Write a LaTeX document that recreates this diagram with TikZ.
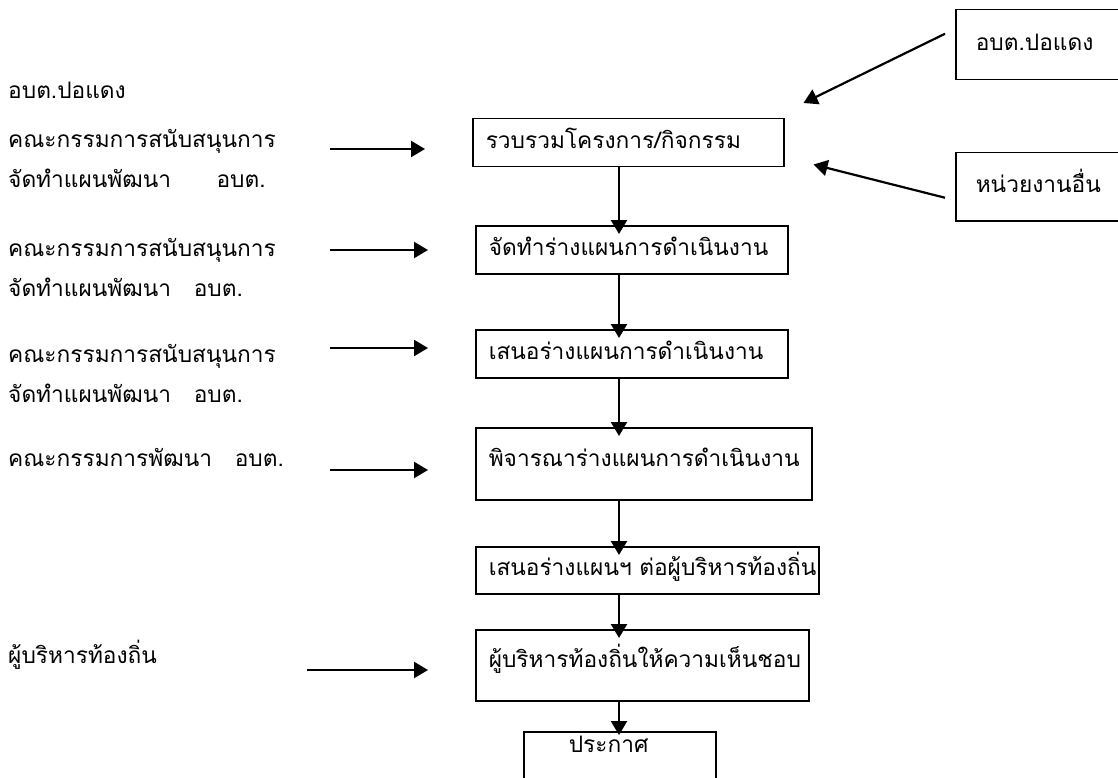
\documentclass[tikz,border=0pt]{standalone}
\usepackage{fontspec}
\newfontfamily\thaifont[Script=Thai]{Loma}
\usetikzlibrary{arrows.meta}

\tikzset{
  stage/.style={draw, line width=1.5pt, anchor=north west, inner xsep=13pt, inner ysep=0pt,
    align=left, text height=15pt, text depth=4pt},
  unit/.style={draw, line width=1.5pt, anchor=north west, inner xsep=20pt, inner ysep=0pt,
    align=left, text height=15pt, text depth=4pt},
  who/.style={anchor=west, inner sep=0pt, text width=300pt, align=left},
  flow/.style={->, line width=2.4pt, shorten >=-9pt},
  feed/.style={->, line width=2.2pt, shorten >=47pt},
}

\begin{document}
\begin{tikzpicture}[x=1pt,y=-1pt,font={\thaifont\fontsize{22.7}{40}\selectfont}]
\useasboundingbox (0,0) rectangle (1118,778);
\begin{scope}[>={Triangle[length=14pt,width=16pt]}]

    % steps down the middle
    \node[stage,text width=285pt,minimum height=48pt] (collect) at (472,118) {รวบรวมโครงการ/กิจกรรม};
    \node[stage,text width=286pt,minimum height=48pt] (draft) at (475,225) {จัดทำร่างแผนการดำเนินงาน};
    \node[stage,text width=286pt,minimum height=48pt] (propose) at (475,329) {เสนอร่างแผนการดำเนินงาน};
    \node[stage,text width=310pt,minimum height=72pt,text depth=10pt] (review) at (475,427) {พิจารณาร่างแผนการดำเนินงาน};
    \node[stage,text width=317pt,minimum height=47pt] (submit) at (475,546) {เสนอร่างแผนฯ~ต่อผู้บริหารท้องถิ่น};
    \node[stage,text width=307pt,minimum height=71pt,text depth=10pt] (approve) at (475,629) {ผู้บริหารท้องถิ่นให้ความเห็นชอบ};
    \node[stage,text width=166pt,minimum height=60pt,text depth=33pt] (announce) at (523,731) {\hspace*{32pt}ประกาศ};

    % sources on the right
    \node[unit,text width=130pt,minimum height=70pt] (porDaeng) at (955,9) {อบต.ปอแดง};
    \node[unit,text width=130pt,minimum height=68pt] (others) at (955,152) {หน่วยงานอื่น};

    % who does it, on the left
    \node[who] (orgTop) at (8,90) {อบต.ปอแดง};
    \node[who] (cmteA) at (8,158) {คณะกรรมการสนับสนุนการ\\จัดทำแผนพัฒนา~~~~~~อบต.};
    \node[who] (cmteB) at (8,267) {คณะกรรมการสนับสนุนการ\\จัดทำแผนพัฒนา~~~อบต.};
    \node[who] (cmteC) at (8,373) {คณะกรรมการสนับสนุนการ\\จัดทำแผนพัฒนา~~~อบต.};
    \node[who] (cmteD) at (8,457) {คณะกรรมการพัฒนา~~~อบต.};
    \node[who] (chief) at (8,655) {ผู้บริหารท้องถิ่น};

    \coordinate (spine) at (619,0);
    \coordinate (inA) at (330,149);
    \coordinate (inB) at (330,250);
    \coordinate (inC) at (330,348);
    \coordinate (inD) at (330,470);
    \coordinate (inE) at (307,670);

    \draw[flow] (spine |- collect.south) -- (spine |- draft.north);
    \draw[flow] (spine |- draft.south) -- (spine |- propose.north);
    \draw[flow] (spine |- propose.south) -- (spine |- review.north);
    \draw[flow] (spine |- review.south) -- (spine |- submit.north);
    \draw[flow] (spine |- submit.south) -- (spine |- approve.north);
    \draw[flow,shorten >=-4pt] (spine |- approve.south) -- (spine |- announce.north);

    \draw[feed] (inA) -- (inA -| collect.west);
    \draw[feed] (inB) -- (inB -| draft.west);
    \draw[feed] (inC) -- (inC -| propose.west);
    \draw[feed] (inD) -- (inD -| review.west);
    \draw[feed] (inE) -- (inE -| approve.west);

    \draw[->, line width=2.2pt] ([shift={(-10,-11)}]porDaeng.west) -- ([shift={(19,-15)}]collect.north east);
    \draw[->, line width=2.2pt] ([shift={(-10,11)}]others.west) -- ([shift={(29,-3)}]collect.south east);

\end{scope}
\end{tikzpicture}
\end{document}
